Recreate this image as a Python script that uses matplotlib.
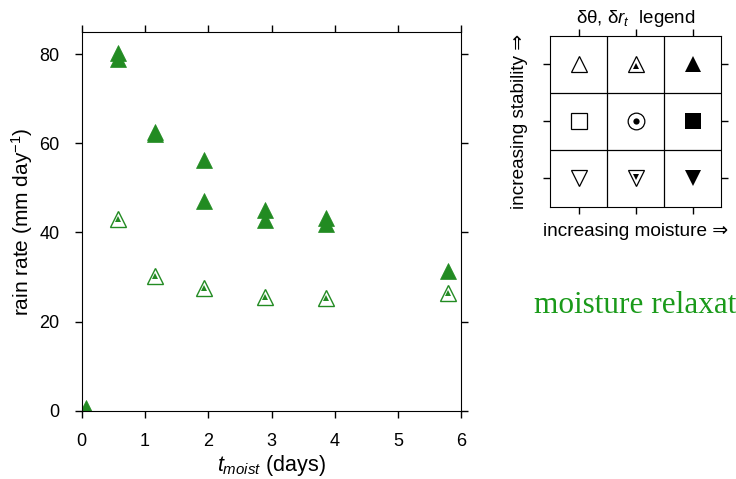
import numpy as np
import matplotlib
matplotlib.use("Agg")
import matplotlib.pyplot as plt

plt.rcParams['font.family'] = ['Liberation Sans', 'DejaVu Sans']
plt.rcParams['mathtext.fontset'] = 'custom'
plt.rcParams['mathtext.rm'] = 'Liberation Sans'
plt.rcParams['mathtext.it'] = 'Liberation Sans:italic'
plt.rcParams['mathtext.bf'] = 'Liberation Sans:bold'

green = '#228b22'

# filled triangles (strong stability, moist)
t_filled = [0.07, 0.58, 0.58, 1.16, 1.16, 1.93, 1.93, 2.89, 2.89, 3.86, 3.86, 5.79]
rain_filled = [0.5, 80.3, 79.0, 62.6, 62.0, 56.3, 47.0, 45.0, 42.7, 43.2, 41.8, 31.4]

# open triangles with inner triangle (strong stability, neutral moisture)
t_open = [0.58, 1.16, 1.93, 2.89, 3.86, 5.79]
rain_open = [43.0, 30.3, 27.6, 25.6, 25.2, 26.5]

xticks = [0, 1, 2, 3, 4, 5, 6]
yticks = [0, 20, 40, 60, 80]

fig = plt.figure(figsize=(7.36, 4.79), dpi=100)

ax = fig.add_axes([0.111, 0.1426, 0.516, 0.791])
ax.plot(t_filled, rain_filled, '^', color=green, ms=11.5, mec=green, mew=0.5, ls='none')
ax.plot(t_open, rain_open, '^', mfc='white', mec=green, ms=11.5, mew=1.0, ls='none')
ax.plot(t_open, rain_open, '^', color=green, ms=4, mew=0, ls='none')
ax.set_xlim(0, 6)
ax.set_ylim(0, 85)
ax.set_xticks(xticks)
ax.set_yticks(yticks)
ax.tick_params(direction='out', length=5, width=1, labelsize=13, pad=11,
               top=True, right=True)
ax.set_xlabel(r'$t_{moist}$ (days)', fontsize=15.5, labelpad=2)
ax.set_ylabel(r'rain rate (mm day$^{\mathregular{-1}}$)', fontsize=15, labelpad=3)
for sp in ax.spines.values():
    sp.set_linewidth(0.8)

# symbol legend grid
lax = fig.add_axes([0.7477, 0.5685, 0.232, 0.3564])
lax.set_xlim(0, 3)
lax.set_ylim(0, 3)
for v in [1, 2]:
    lax.axvline(v, color='k', lw=0.9)
    lax.axhline(v, color='k', lw=0.9)
cells = [0.5, 1.5, 2.5]
lax.set_xticks(cells)
lax.set_yticks(cells)
lax.tick_params(direction='out', length=5, width=1, labelleft=False,
                labelbottom=False, top=True, right=True)
k = 'k'
# top row: up triangles
lax.plot(0.5, 2.5, '^', mfc='white', mec=k, ms=12, mew=0.9)
lax.plot(1.5, 2.5, '^', mfc='white', mec=k, ms=12, mew=0.9)
lax.plot(1.5, 2.48, '^', color=k, ms=4.5, mew=0)
lax.plot(2.5, 2.5, '^', color=k, ms=11, mew=0)
# middle row
lax.plot(0.5, 1.5, 's', mfc='white', mec=k, ms=12, mew=0.9)
lax.plot(1.5, 1.5, 'o', mfc='white', mec=k, ms=12, mew=0.9)
lax.plot(1.5, 1.5, 'o', color=k, ms=4.5, mew=0)
lax.plot(2.5, 1.5, 's', color=k, ms=12, mew=0)
# bottom row: down triangles
lax.plot(0.5, 0.5, 'v', mfc='white', mec=k, ms=12, mew=0.9)
lax.plot(1.5, 0.5, 'v', mfc='white', mec=k, ms=12, mew=0.9)
lax.plot(1.5, 0.52, 'v', color=k, ms=4.5, mew=0)
lax.plot(2.5, 0.5, 'v', color=k, ms=11, mew=0)
lax.set_title(r'δθ, δ$r_t$  legend', fontsize=13.5, pad=9)
lax.set_xlabel('increasing moisture ⇒', fontsize=13.7, labelpad=7,
               family=['Liberation Sans', 'DejaVu Sans'])
lax.set_ylabel('increasing stability ⇒', fontsize=13.7, labelpad=11,
               family=['Liberation Sans', 'DejaVu Sans'])

fig.text(0.7255, 0.3466, 'moisture relaxation', color='#1a9a1a', fontsize=22.5,
         family='Liberation Serif', va='baseline', ha='left')

fig.savefig('out.png', dpi=100)
